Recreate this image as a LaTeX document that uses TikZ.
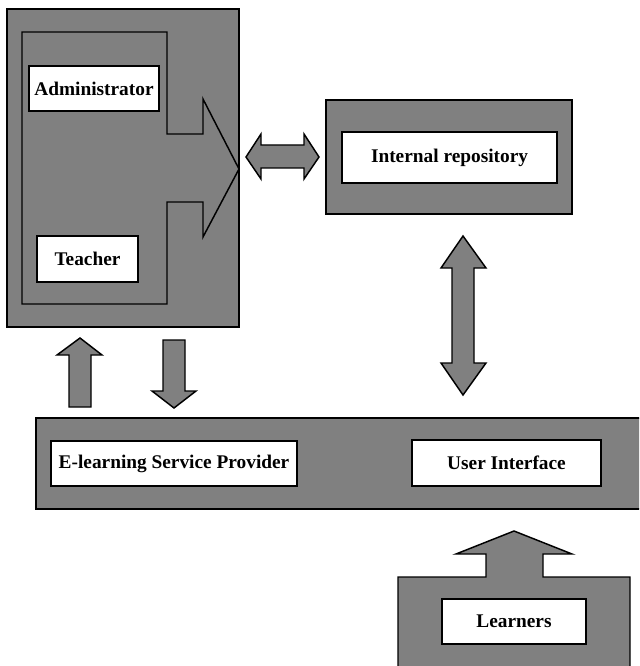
\documentclass[tikz,border=0pt]{standalone}
\usepackage{fontspec}
\setmainfont{Liberation Serif}
\definecolor{blockgray}{HTML}{808080}
\begin{document}
\begin{tikzpicture}[x=0.75pt,y=-0.75pt,line width=1.1pt,
  panel/.style={draw=black,fill=blockgray},
  label/.style={draw=black,fill=white,inner sep=0pt,font=\fontsize{14.5}{17}\bfseries\selectfont},
  blockarrow/.style={draw=black,fill=blockgray,line join=miter}]
\useasboundingbox (0,0) rectangle (639,666);
\clip (0,0) rectangle (639,666);
% left panel
\draw[panel] (7,9) rectangle (239,327);
\draw[blockarrow] (22,32) -- (167,32) -- (167,134) -- (203,134) -- (203,99) -- (239,169)
  -- (203,237) -- (203,202) -- (167,202) -- (167,304) -- (22,304) -- cycle;
\node[label,minimum width=0.75pt*130,minimum height=0.75pt*45] (admin) at (94,88.5) {Administrator};
\node[label,minimum width=0.75pt*101,minimum height=0.75pt*46] (teacher) at (87.5,259) {Teacher};
% repository
\draw[panel] (326,100) rectangle (572,214);
\node[label,minimum width=0.75pt*215,minimum height=0.75pt*51] (repo) at (449.5,157.5) {Internal repository};
% horizontal double arrow
\draw[blockarrow] (246,157) -- (261,134) -- (261,145) -- (304,145) -- (304,134) -- (319,157)
  -- (304,179) -- (304,168) -- (261,168) -- (261,179) -- cycle;
% up and down arrows
\draw[blockarrow] (80,338) -- (102,355) -- (91,355) -- (91,407) -- (69,407) -- (69,355) -- (57,355) -- cycle;
\draw[blockarrow] (163,340) -- (185,340) -- (185,391) -- (196,391) -- (174,408) -- (152,391) -- (163,391) -- cycle;
% vertical double arrow
\draw[blockarrow] (463,236) -- (486,268) -- (474,268) -- (474,363) -- (486,363) -- (463,395)
  -- (441,363) -- (452,363) -- (452,268) -- (441,268) -- cycle;
% service provider band
\draw[panel] (36,418) rectangle (660,509);
\node[label,minimum width=0.75pt*246,minimum height=0.75pt*45] (esp) at (174,463.5) {E-learning Service Provider};
\node[label,minimum width=0.75pt*189,minimum height=0.75pt*46] (ui) at (506.5,463) {User Interface};
% learners
\draw[blockarrow] (398,680) -- (398,577) -- (486,577) -- (486,554) -- (456,554) -- (514,531)
  -- (572,554) -- (543,554) -- (543,577) -- (630,577) -- (630,680);
\node[label,minimum width=0.75pt*144,minimum height=0.75pt*45] (learners) at (514,621.5) {Learners};
\end{tikzpicture}
\end{document}
